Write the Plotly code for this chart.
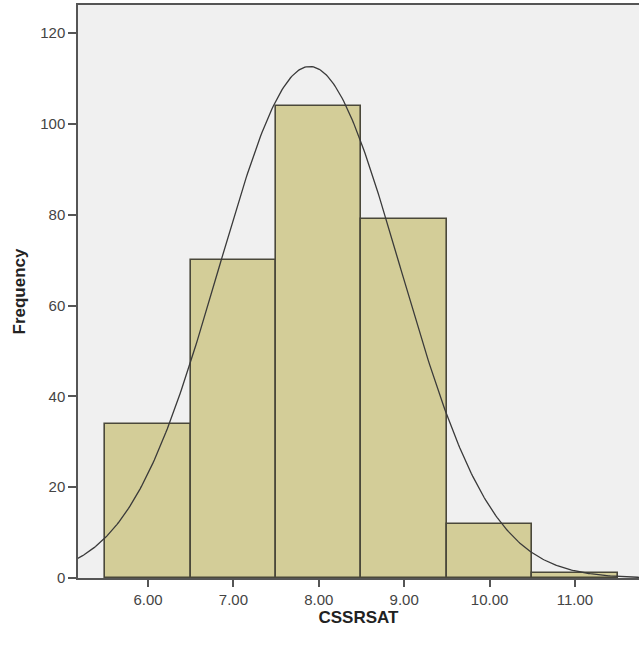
import numpy as np
import plotly.graph_objects as go

# Histogram data (bin centers and frequencies)
bin_centers = [6.0, 7.0, 8.0, 9.0, 10.0, 11.0]
frequencies = [34, 70, 104, 79, 12, 1]
bin_width = 1.0

x_tick_vals = [6.0, 7.0, 8.0, 9.0, 10.0, 11.0]
x_tick_text = ["6.00", "7.00", "8.00", "9.00", "10.00", "11.00"]
y_tick_vals = [0, 20, 40, 60, 80, 100, 120]

# Normal curve fitted from the histogram data
c = np.array(bin_centers)
f = np.array(frequencies)
n = f.sum()
mean = (c * f).sum() / n
sd = np.sqrt(((c - mean) ** 2 * f).sum() / n)
xs = np.linspace(5.1, 11.8, 400)
ys = n * bin_width / (sd * np.sqrt(2 * np.pi)) * np.exp(-0.5 * ((xs - mean) / sd) ** 2)

fig = go.Figure()
fig.add_trace(go.Bar(
    x=bin_centers, y=frequencies, width=bin_width,
    marker=dict(color="#d3cd98", line=dict(color="#4a483a", width=1.6)),
    hoverinfo="skip",
))
fig.add_trace(go.Scatter(
    x=xs, y=ys, mode="lines",
    line=dict(color="#3a3a3a", width=1.3),
    hoverinfo="skip",
))

fig.update_layout(
    width=639, height=645,
    margin=dict(l=78, r=0, t=5, b=67),
    paper_bgcolor="white",
    plot_bgcolor="#f0f0f0",
    showlegend=False,
    bargap=0,
    font=dict(family="Liberation Sans, Arial, sans-serif", color="#3a3a3a"),
)
fig.update_xaxes(
    range=[5.18, 11.75],
    tickvals=x_tick_vals, ticktext=x_tick_text,
    ticks="outside", ticklen=7, tickcolor="#555", tickwidth=1.5,
    showline=True, linecolor="#555", linewidth=1.5, mirror=True,
    showgrid=False, zeroline=False,
    tickfont=dict(size=15, color="#444"),
    title=dict(text="<b>CSSRSAT</b>", font=dict(size=17, color="#222"), standoff=4),
)
fig.update_yaxes(
    range=[0, 126.2],
    tickvals=y_tick_vals,
    ticks="outside", ticklen=8, tickcolor="#555", tickwidth=1.5,
    showline=True, linecolor="#555", linewidth=1.5,
    showgrid=False, zeroline=False,
    tickfont=dict(size=15, color="#444"),
    title=dict(text="<b>Frequency</b>", font=dict(size=17, color="#222"), standoff=10),
)

fig.write_html("out.html")
